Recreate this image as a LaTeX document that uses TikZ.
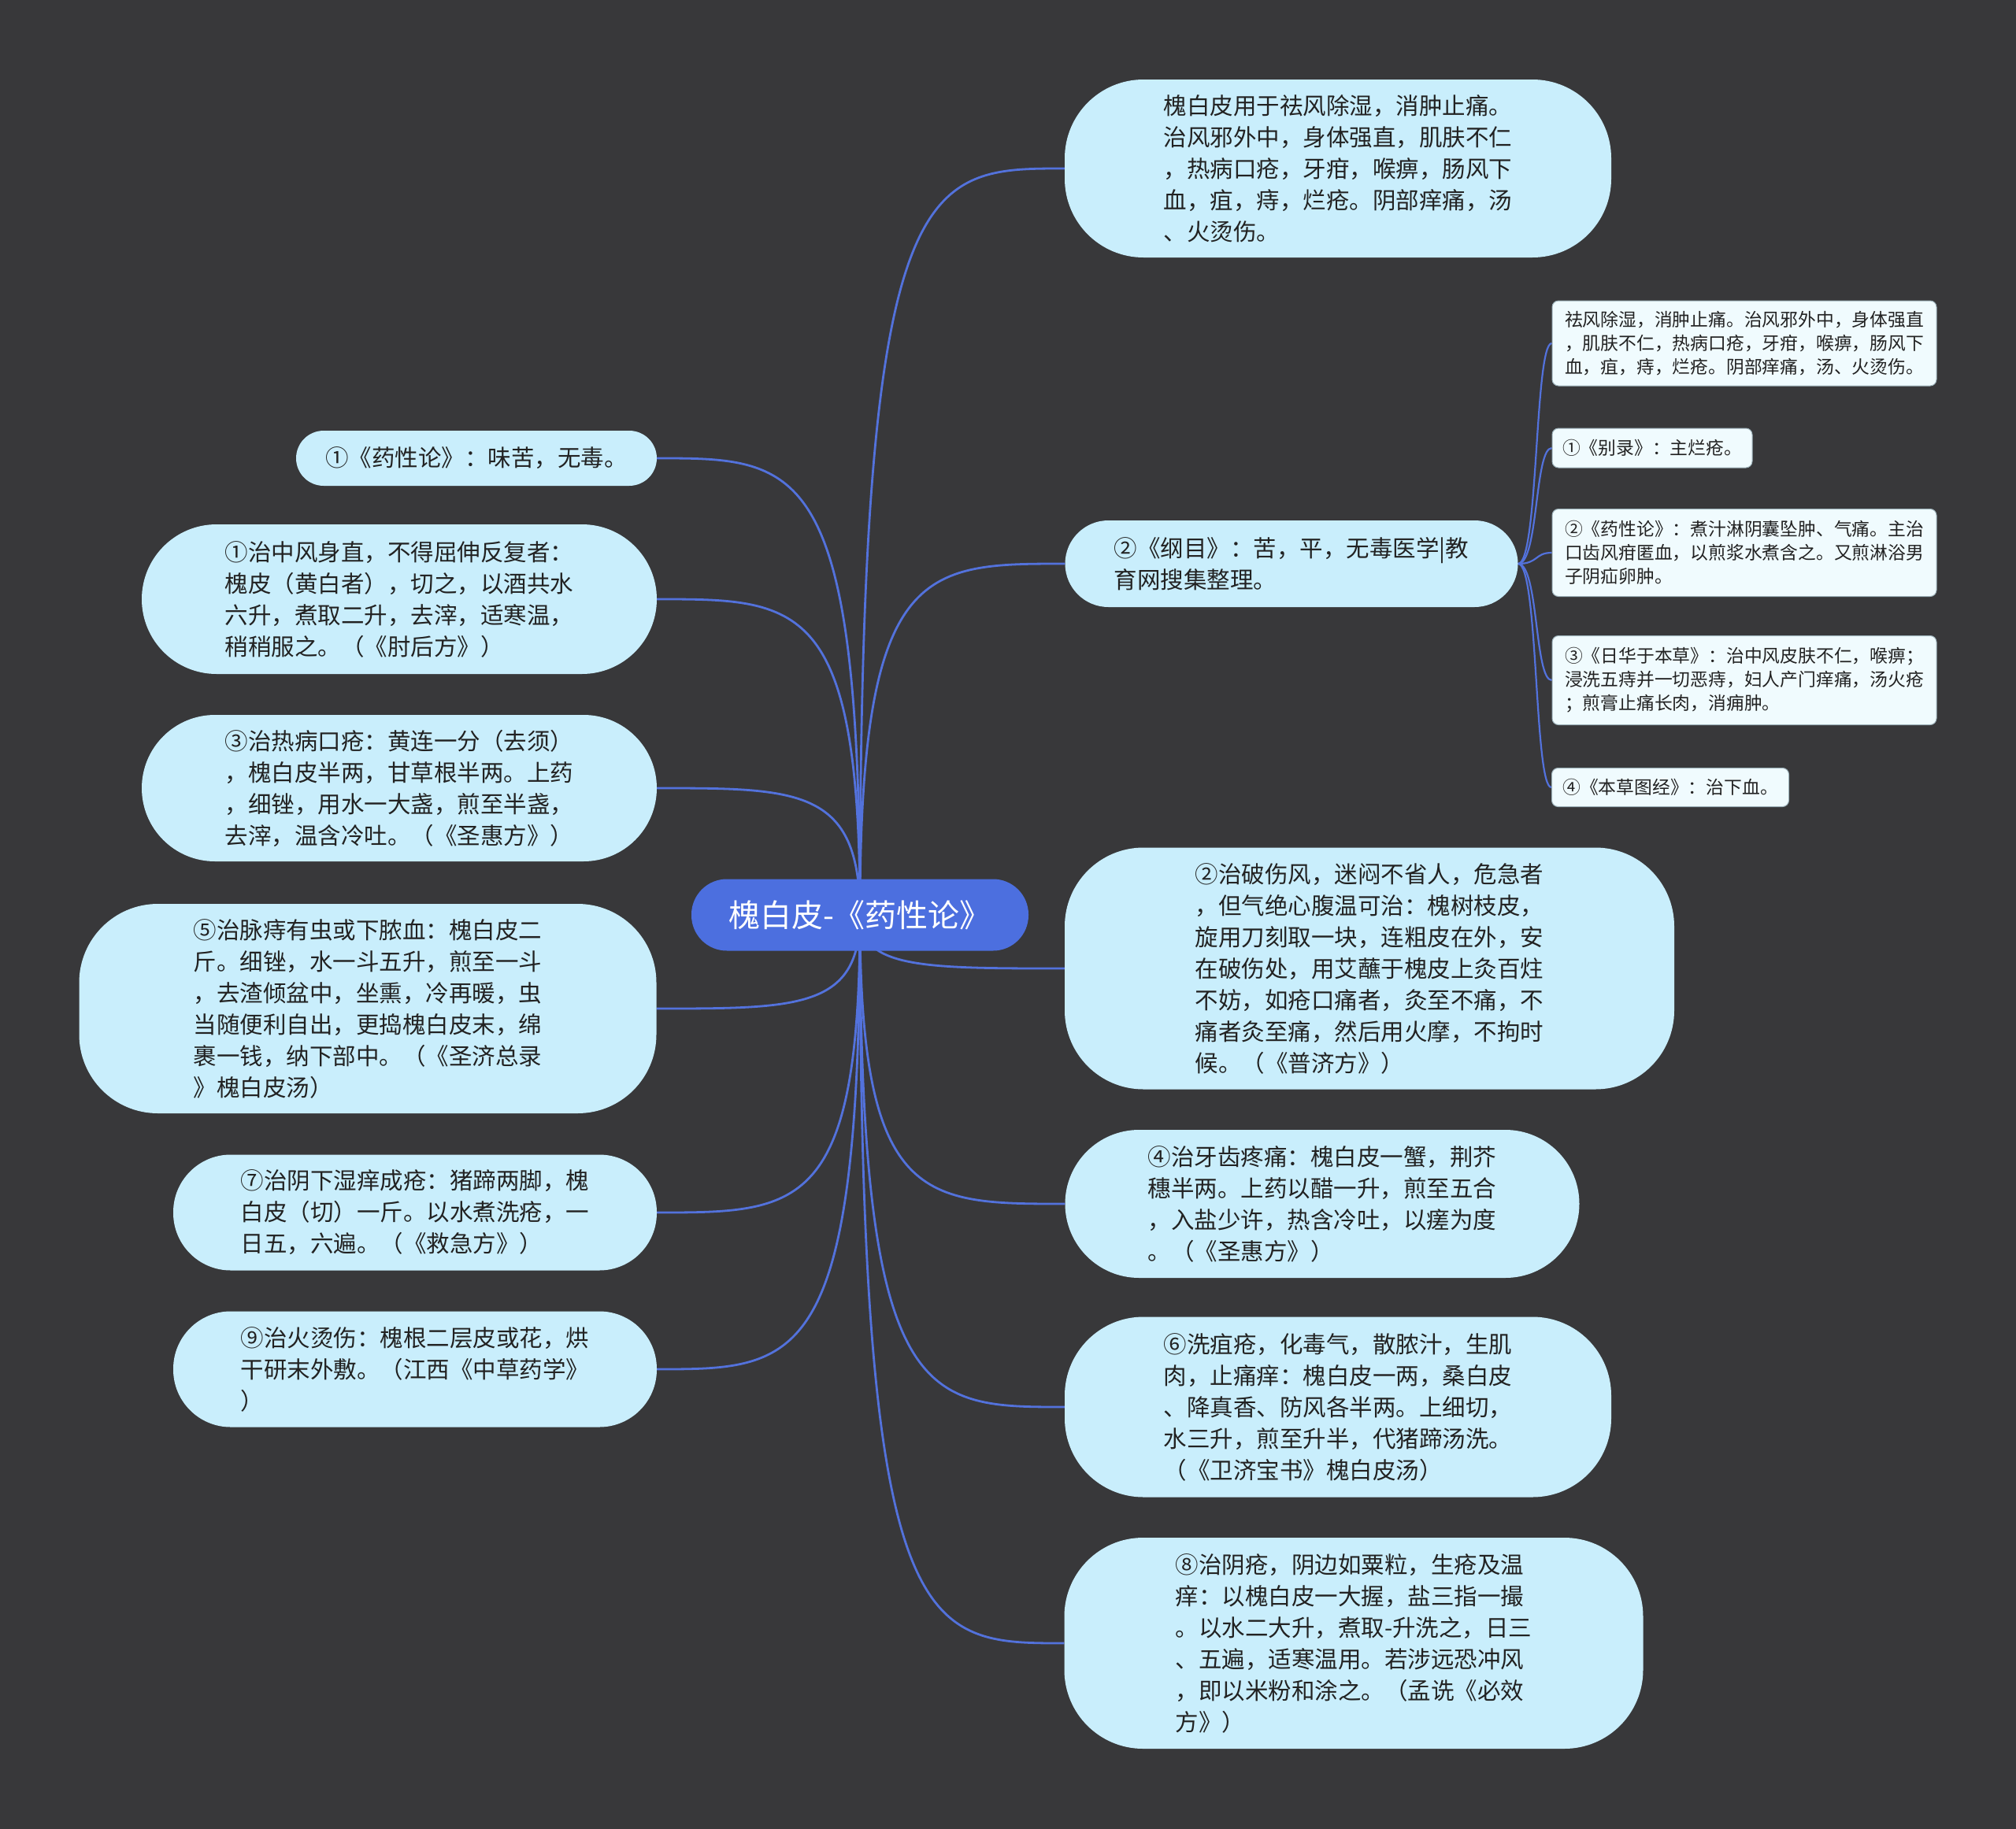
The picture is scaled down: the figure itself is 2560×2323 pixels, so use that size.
\documentclass[tikz,border=0pt]{standalone}
\usepackage{fontspec}
\setmainfont{Noto Sans CJK SC}
\pgfdeclarelayer{bgl}
\pgfdeclarelayer{edges}
\pgfsetlayers{bgl,edges,main}
\definecolor{bgc}{HTML}{38383A}
\definecolor{nodeblue}{HTML}{C9EEFC}
\definecolor{rootblue}{HTML}{4C6FDF}
\definecolor{linkblue}{HTML}{5372DC}
\definecolor{subfill}{HTML}{F0FBFE}
\definecolor{subline}{HTML}{9FB4BC}
\definecolor{txt}{HTML}{222222}
\tikzset{
  pill/.style n args={3}{minimum width=#1pt, minimum height=#2pt, rounded corners=#3pt},
  bignode/.style={fill=nodeblue, text=txt, align=left, inner sep=0pt, font=\fontsize{29.5}{40}\selectfont},
  subnode/.style={fill=subfill, draw=subline, line width=1pt, text=txt, align=left, inner sep=0pt, rounded corners=8pt, font=\fontsize{22.8}{30}\selectfont},
  rootnode/.style={fill=rootblue, text=white, inner sep=0pt, font=\fontsize{40}{48}\selectfont},
  link/.style={draw=linkblue, line width=2.8pt},
  sublink/.style={draw=linkblue, line width=2.2pt}
}
\begin{document}
\begin{tikzpicture}[x=1pt,y=-1pt]
\useasboundingbox (0,0) rectangle (2560,2323);
\begin{pgfonlayer}{bgl}
\fill[bgc] (0,0) rectangle (2560,2323);
\end{pgfonlayer}

% root
\node[rootnode, pill={428}{91}{45}] (c) at (1092,1162) {槐白皮-《药性论》};

% right nodes
\node[bignode, pill={694}{226}{100}] (r1) at (1699,214) {槐白皮用于祛风除湿，消肿止痛。\\治风邪外中，身体强直，肌肤不仁\\，热病口疮，牙疳，喉痹，肠风下\\血，疽，痔，烂疮。阴部痒痛，汤\\、火烫伤。};
\node[bignode, pill={575}{110}{55}] (r2) at (1640,716) {②《纲目》：苦，平，无毒医学|教\\育网搜集整理。};
\node[bignode, pill={774}{307}{100}] (r3) at (1739,1230) {②治破伤风，迷闷不省人，危急者\\，但气绝心腹温可治：槐树枝皮，\\旋用刀刻取一块，连粗皮在外，安\\在破伤处，用艾蘸于槐皮上灸百炷\\不妨，如疮口痛者，灸至不痛，不\\痛者灸至痛，然后用火摩，不拘时\\候。（《普济方》）};
\node[bignode, pill={653}{188}{94}] (r4) at (1679,1529) {④治牙齿疼痛：槐白皮一蟹，荆芥\\穗半两。上药以醋一升，煎至五合\\，入盐少许，热含冷吐，以瘥为度\\。（《圣惠方》）};
\node[bignode, pill={694}{229}{100}] (r5) at (1699,1787) {⑥洗疽疮，化毒气，散脓汁，生肌\\肉，止痛痒：槐白皮一两，桑白皮\\、降真香、防风各半两。上细切，\\水三升，煎至升半，代猪蹄汤洗。\\（《卫济宝书》槐白皮汤）};
\node[bignode, pill={735}{268}{100}] (r6) at (1719,2087) {⑧治阴疮，阴边如粟粒，生疮及温\\痒：以槐白皮一大握，盐三指一撮\\。以水二大升，煮取-升洗之，日三\\、五遍，适寒温用。若涉远恐冲风\\，即以米粉和涂之。（孟诜《必效\\方》）};

% left nodes
\node[bignode, pill={458}{70}{35}] (l1) at (605,582) {①《药性论》：味苦，无毒。};
\node[bignode, pill={654}{190}{95}] (l2) at (507,761) {①治中风身直，不得屈伸反复者：\\槐皮（黄白者），切之，以酒共水\\六升，煮取二升，去滓，适寒温，\\稍稍服之。（《肘后方》）};
\node[bignode, pill={654}{186}{93}] (l3) at (507,1001) {③治热病口疮：黄连一分（去须）\\，槐白皮半两，甘草根半两。上药\\，细锉，用水一大盏，煎至半盏，\\去滓，温含冷吐。（《圣惠方》）};
\node[bignode, pill={733}{266}{100}] (l4) at (467,1281) {⑤治脉痔有虫或下脓血：槐白皮二\\斤。细锉，水一斗五升，煎至一斗\\，去渣倾盆中，坐熏，冷再暖，虫\\当随便利自出，更捣槐白皮末，绵\\裹一钱，纳下部中。（《圣济总录\\》槐白皮汤）};
\node[bignode, pill={614}{147}{73}] (l5) at (527,1540) {⑦治阴下湿痒成疮：猪蹄两脚，槐\\白皮（切）一斤。以水煮洗疮，一\\日五，六遍。（《救急方》）};
\node[bignode, pill={614}{147}{73}] (l6) at (527,1739) {⑨治火烫伤：槐根二层皮或花，烘\\干研末外敷。（江西《中草药学》\\）};

% sub nodes
\node[subnode, minimum width=488pt, minimum height=108pt] (s1) at (2215,436) {祛风除湿，消肿止痛。治风邪外中，身体强直\\，肌肤不仁，热病口疮，牙疳，喉痹，肠风下\\血，疽，痔，烂疮。阴部痒痛，汤、火烫伤。};
\node[subnode, minimum width=254pt, minimum height=50pt] (s2) at (2098,569) {①《别录》：主烂疮。};
\node[subnode, minimum width=488pt, minimum height=111pt] (s3) at (2215,702) {②《药性论》：煮汁淋阴囊坠肿、气痛。主治\\口齿风疳匿血，以煎浆水煮含之。又煎淋浴男\\子阴疝卵肿。};
\node[subnode, minimum width=488pt, minimum height=113pt] (s4) at (2215,864) {③《日华于本草》：治中风皮肤不仁，喉痹；\\浸洗五痔并一切恶痔，妇人产门痒痛，汤火疮\\；煎膏止痛长肉，消痈肿。};
\node[subnode, minimum width=301pt, minimum height=49pt] (s5) at (2121,1000) {④《本草图经》：治下血。};

\begin{pgfonlayer}{edges}
\foreach \t in {r1,r2,r3,r4,r5,r6}{
  \draw[link] (c.center) .. controls (c.center |- \t.west) and ([xshift=-180pt]\t.west) .. (\t.west);
}
\foreach \t in {l1,l2,l3,l4,l5,l6}{
  \draw[link] (c.center) .. controls (c.center |- \t.east) and ([xshift=180pt]\t.east) .. (\t.east);
}
\foreach \t in {s1,s2,s3,s4,s5}{
  \draw[sublink] (r2.east) .. controls ([xshift=26pt]r2.east) and ([xshift=-22pt]\t.west) .. (\t.west);
}
\end{pgfonlayer}
\end{tikzpicture}
\end{document}
